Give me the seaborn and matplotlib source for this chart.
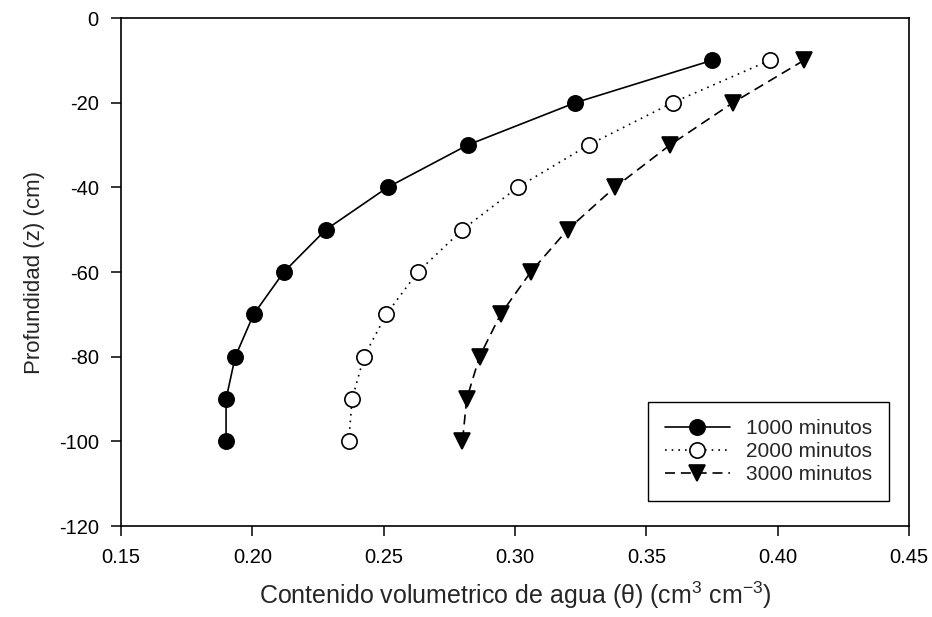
import numpy as np
import pandas as pd
import matplotlib
matplotlib.use("Agg")
import matplotlib.pyplot as plt
import seaborn as sns

# datos
profundidad = [-10, -20, -30, -40, -50, -60, -70, -80, -90, -100]
theta_1000 = [0.375, 0.323, 0.282, 0.2515, 0.228, 0.212, 0.2005, 0.1935, 0.190, 0.190]
theta_2000 = [0.397, 0.360, 0.328, 0.301, 0.280, 0.263, 0.251, 0.2425, 0.238, 0.2367]
theta_3000 = [0.410, 0.383, 0.359, 0.338, 0.320, 0.306, 0.2945, 0.2865, 0.2816, 0.280]
etiquetas = ["1000 minutos", "2000 minutos", "3000 minutos"]

sns.set_style("ticks")
plt.rcParams["font.family"] = ["Liberation Sans", "DejaVu Sans"]
plt.rcParams["mathtext.fontset"] = "custom"
plt.rcParams["mathtext.rm"] = "Liberation Sans"
plt.rcParams["axes.unicode_minus"] = False

fig = plt.figure(figsize=(9.32, 6.17), dpi=100)
ax = fig.add_axes([121 / 932, 1 - 526 / 617, 788 / 932, 508 / 617])

estilos = [
    dict(ls="-", marker="o", mfc="black"),
    dict(ls=(0, (1, 3)), marker="o", mfc="white"),
    dict(ls=(0, (6, 3.5)), marker="v", mfc="black"),
]
series = [theta_1000, theta_2000, theta_3000]
for vals, lab, st in zip(series, etiquetas, estilos):
    sns.lineplot(x=vals, y=profundidad, sort=False, estimator=None, ax=ax,
                 color="black", lw=1.2, linestyle=st["ls"], marker=st["marker"],
                 markersize=11, markerfacecolor=st["mfc"],
                 markeredgecolor="black", markeredgewidth=1.2, label=lab)

ax.set_xlim(0.15, 0.45)
ax.set_ylim(-120, 0)
xt = np.arange(0.15, 0.451, 0.05)
ax.set_xticks(xt)
ax.set_xticklabels([f"{v:.2f}" for v in xt])
ax.set_yticks(np.arange(-120, 1, 20))
ax.tick_params(direction="out", length=7, width=1.1, labelsize=14.5, colors="black", pad=9)
for s in ax.spines.values():
    s.set_visible(True)
    s.set_linewidth(1.2)
    s.set_color("black")

ax.set_xlabel("Contenido volumetrico de agua (θ) (cm$^{3}$ cm$^{-3}$)", fontsize=18, labelpad=9)
ax.set_ylabel("Profundidad (z) (cm)", fontsize=16, labelpad=10)

leg = ax.legend(loc="lower right", bbox_to_anchor=(889 / 932, 1 - 501 / 617),
                bbox_transform=fig.transFigure, borderaxespad=0, fontsize=15,
                frameon=True, fancybox=False, edgecolor="black", framealpha=1,
                handlelength=3.1, borderpad=0.8, labelspacing=0.2, handletextpad=0.8)
leg.get_frame().set_linewidth(1.0)

fig.savefig("out.png", dpi=100)
